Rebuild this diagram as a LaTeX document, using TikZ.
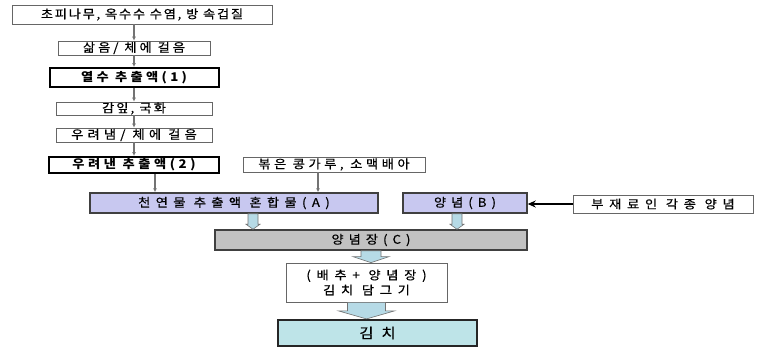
\documentclass[tikz,border=0pt]{standalone}
\usepackage{fontspec}
\usetikzlibrary{arrows.meta,calc}
\newfontfamily\kr[FakeStretch=1.1,FakeBold=0.6,BoldFeatures={FakeBold=0}]{Noto Sans CJK KR}
\definecolor{mixfill}{RGB}{200,200,240}
\definecolor{saucefill}{RGB}{194,194,194}
\definecolor{kimchifill}{RGB}{190,228,232}
\definecolor{arrowfill}{RGB}{182,218,230}
\begin{document}
\begin{tikzpicture}[x=1pt,y=-1pt]

    \tikzset{
      box/.style={
        draw=black!60,
        line width=0.8pt,
        fill=white,
        inner sep=0pt,
        font=\kr\fontsize{12}{15}\selectfont,
      },
      tracking/.style={execute at begin node={\addfontfeature{LetterSpace=#1}}},
      boldbox/.style={box, draw=black, line width=2pt, font=\kr\bfseries\fontsize{12}{15}\selectfont},
      mixbox/.style={box, draw=black!75, line width=1.5pt, fill=mixfill},
      saucebox/.style={box, draw=black!75, line width=1.5pt, fill=saucefill},
      kimchibox/.style={box, draw=black!85, line width=2.2pt, fill=kimchifill, font=\kr\fontsize{14}{15}\selectfont},
      link/.style={draw=black!55, line width=1.6pt, -{Latex[length=4pt,width=4pt]}},
      fat/.style n args={3}{
        draw=black!55,
        line width=0.6pt,
        fill=arrowfill,
        to path={let \p1=(\tikztostart), \p2=(\tikztotarget) in
          (\x1-#1,\y1) -- (\x1-#1,\y2+#3) -- (\x1-#2,\y2+#3) -- (\x1,\y2)
          -- (\x1+#2,\y2+#3) -- (\x1+#1,\y2+#3) -- (\x1+#1,\y1) -- cycle},
      },
    }
    \path[fill=white] (0,0) rectangle (762,349);
    \useasboundingbox (0,0) rectangle (762,349);

    % extraction steps
    \node[box, tracking=15, minimum width=260pt, minimum height=19pt] (raw) at (142,14.5) {초피나무, 옥수수 수염, 방 속겁질};
    \node[box, tracking=25, minimum width=152pt, minimum height=14pt] (boil) at (134,48) {삶음/ 체에 걸음};
    \node[boldbox, tracking=28, minimum width=169pt, minimum height=19pt] (hot) at (134,77.5) {열수 추출액(1)};
    \node[box, tracking=18, minimum width=156pt, minimum height=13pt] (leaf) at (134,108.5) {감잎, 국화};
    \node[box, tracking=35, minimum width=156pt, minimum height=14pt] (steep) at (134,135) {우려냄/ 체에 걸음};
    \node[boldbox, tracking=30, minimum width=170pt, minimum height=16pt] (cold) at (134,165) {우려낸 추출액(2)};
    \node[box, tracking=30, minimum width=182pt, minimum height=15pt] (powder) at (334,164.5) {볶은 콩가루, 소맥배아};

    % mixing
    \node[mixbox, tracking=45, minimum width=288pt, minimum height=20pt] (mix) at (234,203) {천연물 추출액 혼합물(A)};
    \node[mixbox, tracking=42, minimum width=124pt, minimum height=20pt] (spice) at (465,203) {양념(B)};
    \node[box, tracking=48, minimum width=180pt, minimum height=18pt] (extra) at (663,204) {부재료인 각종 양념};
    \node[saucebox, tracking=42, minimum width=312pt, minimum height=20pt] (sauce) at (371,240) {양념장(C)};
    \node[box, tracking=48, minimum width=161pt, minimum height=39pt, align=center] (make) at (366.5,282.5) {(배추+ 양념장)\\김치 담그기};
    \node[kimchibox, tracking=57, minimum width=199pt, minimum height=26pt] (kimchi) at (377.5,333) {김치};

    \draw[link] (raw.south -| boil.north) -- (boil.north);
    \draw[link] (boil.south) -- (hot.north);
    \draw[link] (hot.south) -- (leaf.north);
    \draw[link] (leaf.south) -- (steep.north);
    \draw[link] (steep.south) -- (cold.north);

    \coordinate (c1) at ([xshift=21pt]cold.south);
    \coordinate (p1) at ([xshift=-16pt]powder.south);
    \draw[link] (c1) -- (c1 |- mix.north);
    \draw[link] (p1) -- (p1 |- mix.north);

    \draw[line width=1.2pt, -{Stealth[length=8pt,width=7pt]}] (extra.west) -- (extra.west -| spice.east);

    \coordinate (m1) at ([xshift=19pt]mix.south);
    \coordinate (s1) at ([xshift=-8pt]spice.south);
    \draw[fat={5pt}{7pt}{5pt}] (m1) to (m1 |- sauce.north);
    \draw[fat={5pt}{7pt}{5pt}] (s1) to (s1 |- sauce.north);
    \draw[fat={10pt}{18pt}{6pt}] (sauce.south) to (sauce.south |- make.north);
    \draw[fat={19pt}{28pt}{8pt}] (make.south) to (make.south |- kimchi.north);

\end{tikzpicture}
\end{document}
